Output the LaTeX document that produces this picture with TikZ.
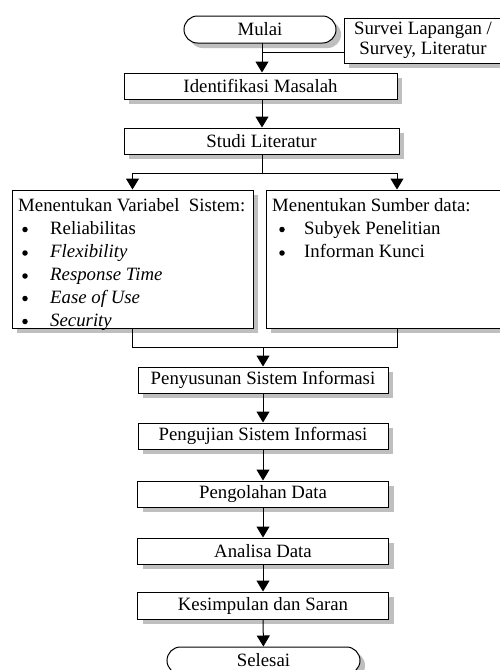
\documentclass[tikz,border=0pt]{standalone}
\usepackage{fontspec}
\setmainfont{Liberation Serif}
\usetikzlibrary{arrows.meta,shapes.misc,shadows}
\newcommand{\fs}{\fontsize{18.8}{20}\selectfont}
\begin{document}
\begin{tikzpicture}[x=1pt,y=-1pt,
  base/.style={draw, line width=1pt, fill=white, inner sep=0pt, font=\fs,
    drop shadow={shadow xshift=5pt,shadow yshift=-5pt,fill=gray!50,opacity=1}},
  procbox/.style={base, rectangle},
  termbox/.style={base, rounded rectangle},
  conn/.style={line width=1pt},
  arr/.style={conn, -{Triangle[width=13pt,length=11pt]}},
  txt/.style={font=\fs, inner sep=0pt, anchor=base west},
  bul/.style={circle, fill=black, inner sep=0pt, minimum size=5.5pt}
]
\path[use as bounding box, clip] (0,0) rectangle (500,670);
\fill[white] (0,0) rectangle (500,670);

% nodes
\node[termbox, minimum width=152pt, minimum height=27pt] (mulai) at (260,29.5) {Mulai};
\node[procbox, minimum width=158pt, minimum height=45pt, align=center] (survey) at (423,40.5) {Survei Lapangan /\\Survey, Literatur};
\node[procbox, minimum width=273pt, minimum height=26pt] (ident) at (260.5,86) {Identifikasi Masalah};
\node[procbox, minimum width=275pt, minimum height=26pt] (studi) at (261.5,141) {Studi Literatur};
\node[procbox, minimum width=241pt, minimum height=138pt] (leftbox) at (132.5,259) {};
\node[procbox, minimum width=262pt, minimum height=138pt] (rightbox) at (397,259) {};
\node[procbox, minimum width=250pt, minimum height=26pt] (susun) at (263,380) {Penyusunan Sistem Informasi};
\node[procbox, minimum width=250pt, minimum height=26pt] (uji) at (263,436) {Pengujian Sistem Informasi};
\node[procbox, minimum width=251pt, minimum height=26pt] (olah) at (263,494) {Pengolahan Data};
\node[procbox, minimum width=251pt, minimum height=26pt] (analisa) at (263,551) {Analisa Data};
\node[procbox, minimum width=251pt, minimum height=27pt] (simpul) at (263,605.5) {Kesimpulan dan Saran};
\node[termbox, minimum width=193pt, minimum height=27pt] (selesai) at (263.5,660.5) {Selesai};

% left box text
\node[txt] (lh) at (18,211) {Menentukan Variabel\ \ Sistem:};
\node[bul] (lb1) at (25,229.5) {};
\node[txt] (li1) at (50,234) {Reliabilitas};
\node[bul] (lb2) at (25,253) {};
\node[txt] (li2) at (50,257.5) {\itshape Flexibility};
\node[bul] (lb3) at (25,276) {};
\node[txt] (li3) at (50,280.5) {\itshape Response Time};
\node[bul] (lb4) at (25,298.5) {};
\node[txt] (li4) at (50,303) {\itshape Ease of Use};
\node[bul] (lb5) at (25,321.5) {};
\node[txt] (li5) at (50,326) {\itshape Security};

% right box text
\node[txt] (rh) at (272,211) {Menentukan Sumber data:};
\node[bul] (rb1) at (282,229.5) {};
\node[txt] (ri1) at (304,234) {Subyek Penelitian};
\node[bul] (rb2) at (282,253) {};
\node[txt] (ri2) at (304,257.5) {Informan Kunci};

% connectors
\coordinate (sjoin) at (262,52);
\coordinate (top) at (262,43);
\draw[arr] (top) -- (top |- ident.north);
\draw[conn] (survey.west |- sjoin) -- (sjoin);
\draw[arr] (ident.south -| top) -- (studi.north -| top);
\coordinate (split) at (262,173);
\draw[conn] (studi.south -| split) -- (split);
\draw[arr] (split) -| (leftbox.north);
\draw[arr] (split) -| (rightbox.north);
\coordinate (merge) at (263,347);
\draw[conn] (leftbox.south) |- (merge);
\draw[conn] (rightbox.south) |- (merge);
\draw[arr] (merge) -- (susun.north);
\draw[arr] (susun) -- (uji);
\draw[arr] (uji) -- (olah);
\draw[arr] (olah) -- (analisa);
\draw[arr] (analisa) -- (simpul);
\draw[arr] (simpul) -- (selesai);
\end{tikzpicture}
\end{document}
